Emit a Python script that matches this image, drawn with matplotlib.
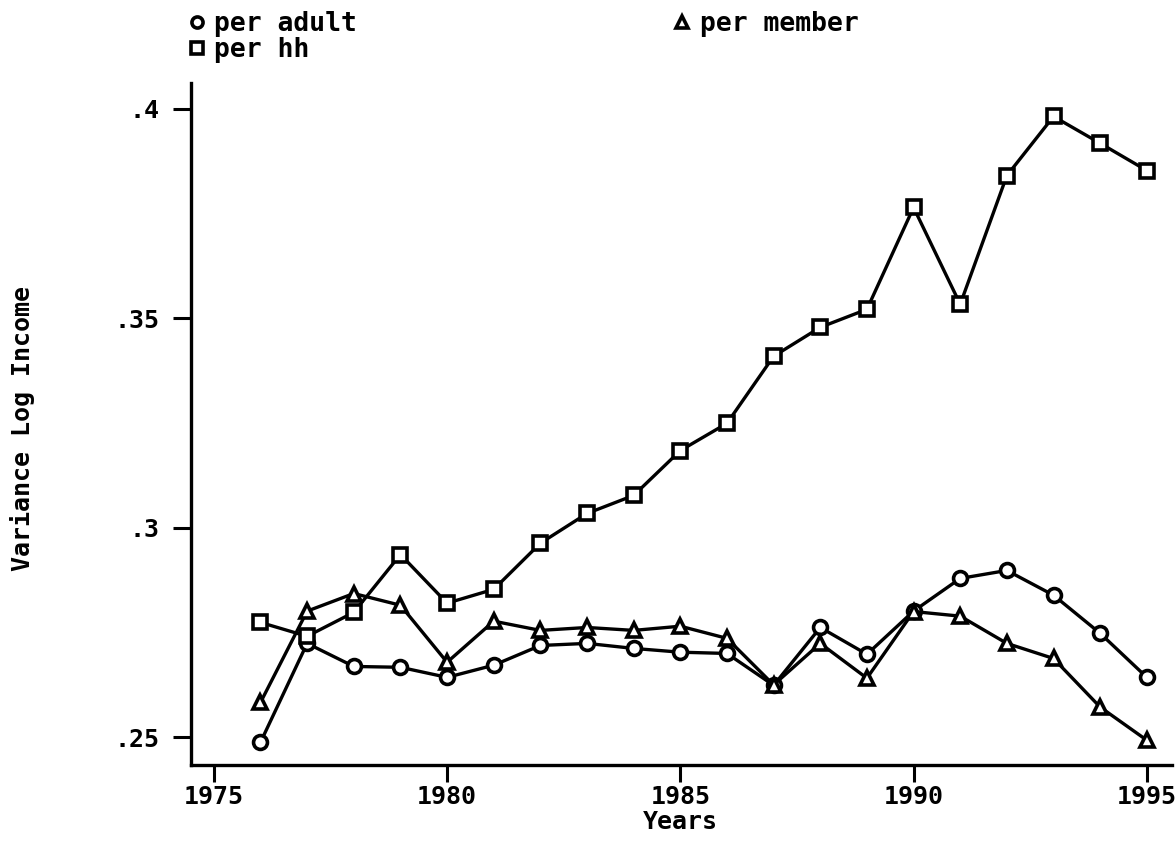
import matplotlib
matplotlib.use("Agg")
import matplotlib.pyplot as plt
from matplotlib.lines import Line2D

plt.rcParams.update({
    "font.family": "DejaVu Sans Mono",
    "font.weight": "bold",
    "axes.labelweight": "bold",
    "font.size": 18,
    "axes.linewidth": 2.4,
    "xtick.major.width": 2.2, "ytick.major.width": 2.2,
    "xtick.major.size": 12, "ytick.major.size": 13,
})

years = list(range(1976, 1996))
per_adult = [0.2488, 0.2724, 0.2669, 0.2667, 0.2643, 0.2672, 0.2719, 0.2724, 0.2712, 0.2703,
             0.2700, 0.2624, 0.2762, 0.2698, 0.2801, 0.2879, 0.2898, 0.2839, 0.2748, 0.2643]
per_hh = [0.2774, 0.2741, 0.2798, 0.2936, 0.2820, 0.2853, 0.2963, 0.3034, 0.3077, 0.3184,
          0.3249, 0.3409, 0.3478, 0.3521, 0.3764, 0.3533, 0.3840, 0.3981, 0.3917, 0.3852]
per_member = [0.2583, 0.2801, 0.2843, 0.2815, 0.2679, 0.2777, 0.2755, 0.2762, 0.2755, 0.2765,
              0.2736, 0.2625, 0.2724, 0.2641, 0.2800, 0.2789, 0.2724, 0.2688, 0.2572, 0.2493]

xticks = [1975, 1980, 1985, 1990, 1995]
yticks = [0.25, 0.30, 0.35, 0.40]
ytick_labels = [".25", ".3", ".35", ".4"]

series = [("per adult", per_adult, "o"), ("per hh", per_hh, "s"), ("per member", per_member, "^")]

fig = plt.figure(figsize=(11.76, 8.42), dpi=100)
ax = fig.add_axes([0.162, 0.091, 0.835, 0.81])

for lab, vals, mk in series:
    ax.plot(years, vals, color="black", lw=2.4, marker=mk, ms=10, mfc="white",
            mec="black", mew=2.6, zorder=3)

ax.set_xlim(1974.5, 1995.55)
ax.set_ylim(0.2433, 0.406)
ax.set_xticks(xticks)
ax.set_yticks(yticks)
ax.set_yticklabels(ytick_labels)
for sp in ("top", "right"):
    ax.spines[sp].set_visible(False)
ax.tick_params(axis="x", labelsize=18, pad=2)
ax.tick_params(axis="y", labelsize=18, pad=9)
ax.set_xlabel("Years", fontsize=18, va="top")
ax.xaxis.set_label_coords(0.499, -0.066)
ax.set_ylabel("Variance Log Income", fontsize=18)
ax.yaxis.set_label_coords(-0.158, 0.494)

# legend: two entries stacked on the left, "per member" off to the right
handles = [Line2D([], [], ls="none", marker=mk, ms=8, mfc="white", mec="black", mew=2.6,
                  label=lab) for lab, _, mk in series]
fig.legend(handles=handles, loc="upper left", bbox_to_anchor=(0.157, 0.993), ncol=2,
           frameon=False, handlelength=0.5, handletextpad=0.4, labelspacing=0.0,
           columnspacing=12.1, fontsize=19, borderaxespad=0.0, borderpad=0.2)

fig.savefig("out.png", dpi=100)
